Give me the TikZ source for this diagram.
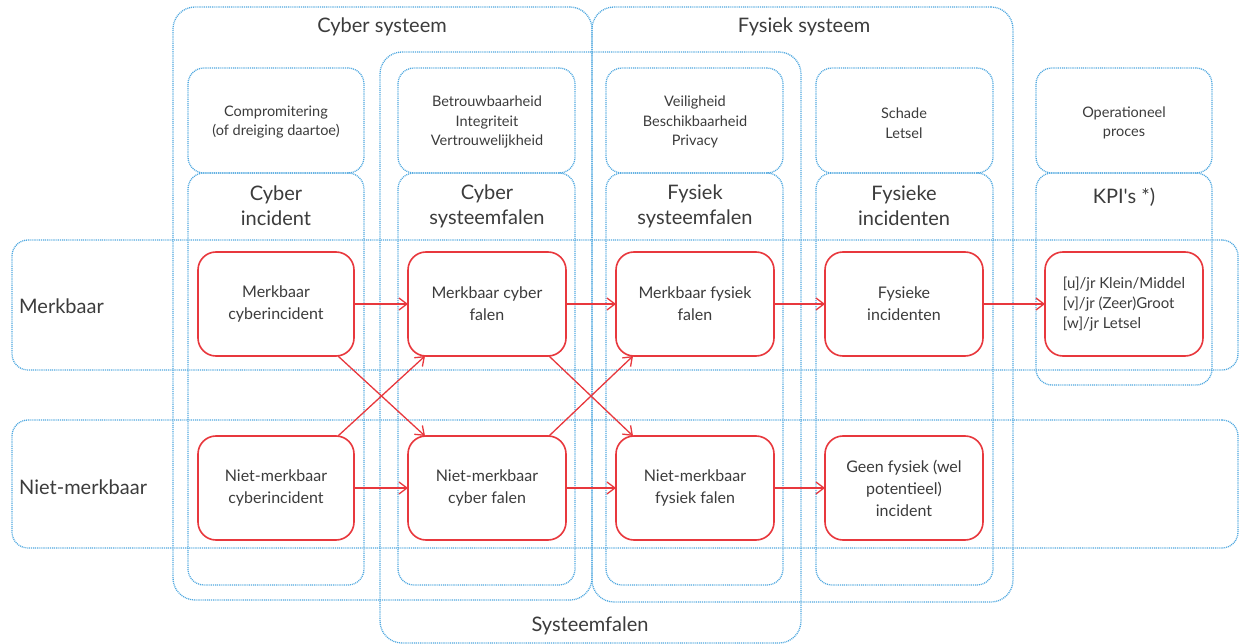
\documentclass[tikz,border=0pt]{standalone}
\usepackage{fontspec}
\setmainfont{Lato}[Ligatures=TeXOff]
\usetikzlibrary{arrows.meta}
\definecolor{bl}{HTML}{4FA8E0}
\definecolor{rd}{HTML}{E8383D}
\definecolor{tx}{HTML}{3C3C3C}
\tikzset{
 bbox/.style={draw=bl, dash pattern=on 1pt off 0.9pt, line width=1.3pt, rounded corners=22pt, anchor=north west, inner sep=0pt, outer sep=0pt},
 cbox/.style={bbox, rounded corners=16pt},
 rbox/.style={draw=rd, solid, line width=1.6pt, rounded corners=18pt, fill=white, minimum width=158pt, minimum height=104pt, align=center, text=tx, font=\fontsize{16}{22}\selectfont, inner sep=2pt, outer sep=0pt},
 arr/.style={draw=rd, line width=1.3pt, -{Straight Barb[length=8pt,width=12pt,line width=1.3pt]}},
 ttl/.style={text=tx, font=\fontsize{20}{25}\selectfont, align=center, inner sep=0pt},
 sml/.style={text=tx, font=\fontsize{14.5}{19.5}\selectfont, align=center, inner sep=0pt},
}
\begin{document}
\begin{tikzpicture}[x=1pt,y=-1pt]
\useasboundingbox[fill=white] (0,0) rectangle (1240,644);
% large groups
\node[bbox, minimum width=419pt, minimum height=593pt] (cs) at (173,7) {};
\node[bbox, minimum width=421pt, minimum height=595pt] (fs) at (592,7) {};
\node[bbox, minimum width=421pt, minimum height=591pt] (sf) at (380,52) {};
% upper column boxes
\node[cbox, minimum width=176pt, minimum height=105pt] (u1) at (188,68) {};
\node[cbox, minimum width=177pt, minimum height=105pt] (u2) at (398,68) {};
\node[cbox, minimum width=177pt, minimum height=105pt] (u3) at (606,68) {};
\node[cbox, minimum width=177pt, minimum height=105pt] (u4) at (816,68) {};
\node[cbox, minimum width=176pt, minimum height=105pt] (u5) at (1036,68) {};
% lower column boxes
\node[cbox, minimum width=176pt, minimum height=412pt] (l1) at (188,173) {};
\node[cbox, minimum width=177pt, minimum height=412pt] (l2) at (398,173) {};
\node[cbox, minimum width=177pt, minimum height=412pt] (l3) at (606,173) {};
\node[cbox, minimum width=177pt, minimum height=412pt] (l4) at (816,173) {};
\node[cbox, minimum width=176pt, minimum height=212pt] (l5) at (1036,173) {};
% rows
\node[cbox, minimum width=1226pt, minimum height=130pt] (rm) at (12,240) {};
\node[cbox, minimum width=1226pt, minimum height=128pt] (rn) at (12,420) {};
% titles
\node[ttl] (tcs) at (382,27) {Cyber systeem};
\node[ttl] (tfs) at (804,27) {Fysiek systeem};
\node[ttl] (tsf) at (590,626) {Systeemfalen};
\node[sml] (s1) at (276,122) {Compromitering\\(of dreiging daartoe)};
\node[sml] (s2) at (487,122) {Betrouwbaarheid\\Integriteit\\Vertrouwelijkheid};
\node[sml] (s3) at (695,122) {Veiligheid\\Beschikbaarheid\\Privacy};
\node[sml] (s4) at (904,123) {Schade\\Letsel};
\node[sml] (s5) at (1124,123) {Operationeel\\proces};
\node[ttl] (c1) at (276,206) {Cyber\\incident};
\node[ttl] (c2) at (487,206) {Cyber\\systeemfalen};
\node[ttl] (c3) at (695,206) {Fysiek\\systeemfalen};
\node[ttl] (c4) at (904,206) {Fysieke\\incidenten};
\node[ttl] (c5) at (1124,197) {KPI's *)};
\node[ttl, anchor=west] (lm) at (19,306) {Merkbaar};
\node[ttl, anchor=west] (ln) at (19,487) {Niet-merkbaar};
% red boxes
\node[rbox, minimum width=156pt] (mci) at (276,304) {Merkbaar\\cyberincident};
\node[rbox] (mcf) at (487,304) {Merkbaar cyber\\falen};
\node[rbox] (mff) at (695,304) {Merkbaar fysiek\\falen};
\node[rbox] (fin) at (904,304) {Fysieke\\incidenten};
\node[rbox, align=left, font=\fontsize{15}{20}\selectfont] (kpi) at (1124,304) {[u]/jr Klein/Middel\\{[v]}/jr (Zeer)Groot\\{[w]}/jr Letsel};
\node[rbox, minimum width=156pt] (nci) at (276,488) {Niet-merkbaar\\cyberincident};
\node[rbox] (ncf) at (487,488) {Niet-merkbaar\\cyber falen};
\node[rbox] (nff) at (695,488) {Niet-merkbaar\\fysiek falen};
\node[rbox] (gfi) at (904,488) {Geen fysiek (wel\\potentieel)\\incident};
% arrows
\draw[arr] (mci.east) -- (mcf.west);
\draw[arr] (mcf.east) -- (mff.west);
\draw[arr] (mff.east) -- (fin.west);
\draw[arr] (fin.east) -- (kpi.west);
\draw[arr] (nci.east) -- (ncf.west);
\draw[arr] (ncf.east) -- (nff.west);
\draw[arr] (nff.east) -- (gfi.west);
\draw[arr] (mci.-40) -- (ncf.140);
\draw[arr] (nci.40) -- (mcf.-140);
\draw[arr] (mcf.-40) -- (nff.140);
\draw[arr] (ncf.40) -- (mff.-140);
\end{tikzpicture}
\end{document}
